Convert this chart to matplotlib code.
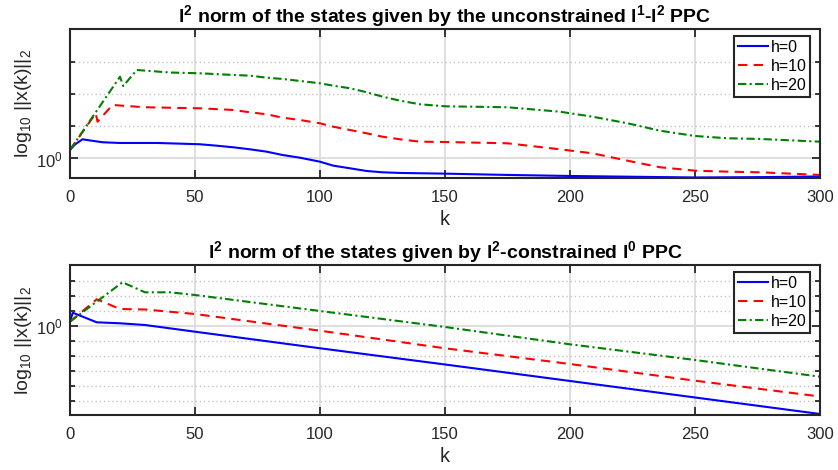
import matplotlib
matplotlib.use("Agg")
import matplotlib.pyplot as plt
import numpy as np
from matplotlib.ticker import FixedLocator, NullFormatter, LogFormatterSciNotation

plt.rcParams['font.family'] = ['Liberation Sans', 'DejaVu Sans']
plt.rcParams['mathtext.fontset'] = 'custom'
plt.rcParams['mathtext.rm'] = 'Liberation Sans'
plt.rcParams['mathtext.default'] = 'regular'

# ---------------- data (log10 of ||x(k)||_2) ----------------
# Top: unconstrained l1-l2 PPC
k_top_h0 = [0, 2, 5, 8, 13, 20, 35, 52, 58.7, 65.3, 72, 78.7, 85, 92, 100, 105.3, 112, 118.7, 125, 132,
            140, 150, 175, 200, 225, 250, 275, 300]
v_top_h0 = [0.0132, 0.0217, 0.0297, 0.0279, 0.0251, 0.0240, 0.0240, 0.0220, 0.0198, 0.0173, 0.0142,
            0.0105, 0.0054, 0.0012, -0.0050, -0.0111, -0.0152, -0.0194, -0.0214, -0.0224,
            -0.0229, -0.0235, -0.0255, -0.0271, -0.0283, -0.0294, -0.0289, -0.0279]

k_top_h10 = [0, 10.3, 11, 17, 30, 52, 65.3, 72, 78.7, 85, 92, 100, 105.3, 112, 118.7, 125, 132, 140,
             150, 175, 196, 209, 223, 236, 250, 263, 276, 300]
v_top_h10 = [0.0132, 0.0700, 0.0570, 0.0828, 0.0793, 0.0777, 0.0751, 0.0715, 0.0684, 0.0632, 0.0596,
             0.0545, 0.0492, 0.0441, 0.0390, 0.0337, 0.0297, 0.0260, 0.0255, 0.0235, 0.0142, 0.0080,
             -0.0034, -0.0136, -0.0189, -0.0204, -0.0214, -0.0255]

k_top_h20 = [0, 20, 21.3, 26.7, 40, 52, 65.3, 72, 78.7, 85, 92, 100, 105.3, 112, 118.7, 125, 132, 140,
             150, 175, 196, 209, 223, 236, 250, 263, 276, 300]
v_top_h20 = [0.0132, 0.1266, 0.1122, 0.1370, 0.1331, 0.1319, 0.1293, 0.1282, 0.1251, 0.1231, 0.1200,
             0.1164, 0.1127, 0.1087, 0.1025, 0.0957, 0.0895, 0.0839, 0.0808, 0.0793, 0.0724, 0.0647,
             0.0545, 0.0430, 0.0348, 0.0313, 0.0302, 0.0260]

# Bottom: l2-constrained l0 PPC
k_bot_h0 = [0, 1.1, 10.7, 20, 30, 50, 100, 150, 200, 250, 300]
v_bot_h0 = [0.0133, 0.0433, 0.0113, 0.0080, 0.0023, -0.0200, -0.0753, -0.1293, -0.1843, -0.2393, -0.2943]

k_bot_h10 = [0, 10.7, 20, 30, 50, 100, 150, 200, 250, 300]
v_bot_h10 = [0.0133, 0.0880, 0.0557, 0.0540, 0.0390, -0.0167, -0.0753, -0.1277, -0.1833, -0.2360]

k_bot_h20 = [0, 21, 30, 40, 50, 100, 150, 200, 250, 300]
v_bot_h20 = [0.0133, 0.1447, 0.1113, 0.1113, 0.1023, 0.0490, -0.0043, -0.0620, -0.1143, -0.1700]

labels = ['h=0', 'h=10', 'h=20']
titles = [r'l$^{2}$ norm of the states given by the unconstrained l$^{1}$-l$^{2}$ PPC',
          r'l$^{2}$ norm of the states given by l$^{2}$-constrained l$^{0}$ PPC']
xticks = [0, 50, 100, 150, 200, 250, 300]

# ---------------- figure ----------------
fig = plt.figure(figsize=(8.38, 4.70), dpi=100)
ax1 = fig.add_axes([70/838, 1-178.3/470, 750/838, 149/470])
ax2 = fig.add_axes([70/838, 1-415/470, 750/838, 150/470])

styles = [dict(color='#0000ff', ls='-'),
          dict(color='#ff0000', ls=(0, (4.5, 3))),
          dict(color='#008000', ls=(0, (4, 1.6, 1, 1.6)))]

def setup(ax, data, ylim_log, minor_log, title):
    for (kk, vv), st, lab in zip(data, styles, labels):
        ax.plot(kk, 10**np.asarray(vv), lw=1.5, label=lab, **st)
    ax.set_yscale('log')
    ax.set_xlim(0, 300)
    ax.set_ylim(10**ylim_log[0], 10**ylim_log[1])
    ax.xaxis.set_major_locator(FixedLocator(xticks))
    ax.yaxis.set_major_locator(FixedLocator([1.0]))
    ax.yaxis.set_major_formatter(LogFormatterSciNotation())
    ax.yaxis.set_minor_locator(FixedLocator([10**m for m in minor_log]))
    ax.yaxis.set_minor_formatter(NullFormatter())
    ax.xaxis.set_minor_locator(FixedLocator([]))
    ax.grid(True, which='major', color='#dcdcdc', lw=1.3, ls='-')
    ax.grid(True, which='minor', axis='y', color='#c4c4c4', lw=1.0, ls=(0, (1, 2)))
    ax.set_axisbelow(True)
    for sp in ax.spines.values():
        sp.set_color('#262626')
        sp.set_linewidth(1.5)
    ax.tick_params(which='both', direction='in', top=True, right=True, color='#262626',
                   labelcolor='#262626', labelsize=12, width=1.3)
    ax.tick_params(which='major', length=5.5)
    ax.tick_params(axis='x', which='major', pad=8.5)
    ax.tick_params(axis='y', which='major', pad=5)
    ax.tick_params(which='minor', length=3.5)
    ax.set_xlabel('k', fontsize=14.5, color='#262626', labelpad=3.5)
    ax.set_ylabel(r'log$_{10}$ ||x(k)||$_{2}$', fontsize=14, color='#262626', labelpad=2)
    ax.set_title(title, fontsize=14, fontweight='bold', pad=4.5, color='black')
    leg = ax.legend(loc='upper right', bbox_to_anchor=(0.987, 0.955), fontsize=11.5,
                    frameon=True, fancybox=False, framealpha=1, edgecolor='#262626',
                    borderpad=0.25, labelspacing=0.25, handlelength=1.9, handletextpad=0.15,
                    borderaxespad=0)
    leg.get_frame().set_linewidth(1.5)

setup(ax1, [(k_top_h0, v_top_h0), (k_top_h10, v_top_h10), (k_top_h20, v_top_h20)],
      (-0.0307, 0.2), [0.05, 0.10, 0.15], titles[0])
setup(ax2, [(k_bot_h0, v_bot_h0), (k_bot_h10, v_bot_h10), (k_bot_h20, v_bot_h20)],
      (-0.2977, 0.2023), [-0.25, -0.20, -0.15, -0.10, -0.05, 0.05, 0.10, 0.15], titles[1])

fig.savefig('out.png', dpi=100)
